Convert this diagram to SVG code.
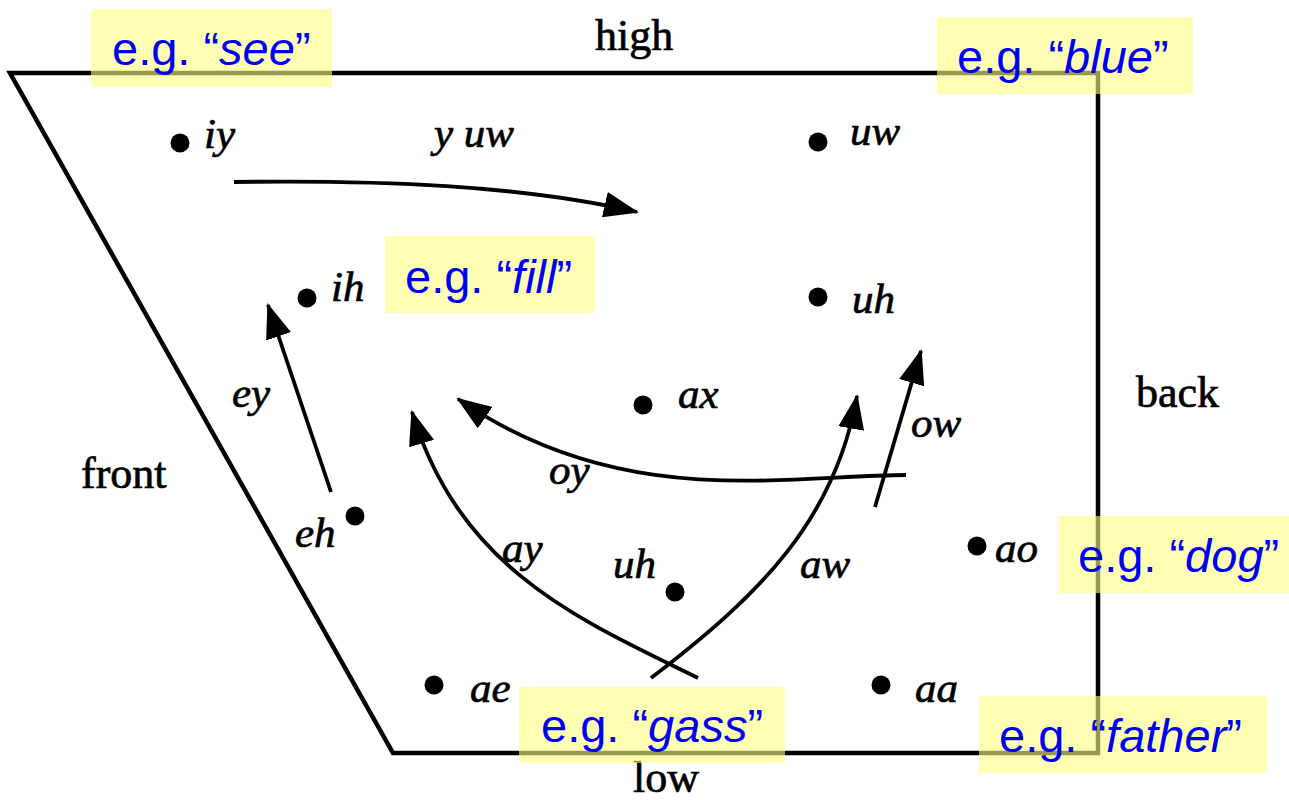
<svg xmlns="http://www.w3.org/2000/svg" width="1289" height="800" viewBox="0 0 1289 800">
<style>
.frame{fill:none;stroke:#000;stroke-width:4.5;stroke-linejoin:miter}
.arr{fill:none;stroke:#000;stroke-width:3.8}
.dot{fill:#000}
.ph{font-family:"Liberation Serif","Times New Roman",serif;font-style:italic;font-size:43px;fill:#000;stroke:#000;stroke-width:0.7}
.ax{font-family:"Liberation Serif","Times New Roman",serif;font-size:44px;fill:#000;stroke:#000;stroke-width:0.7}
.box{fill:#ffff80;fill-opacity:0.6}
.eg{font-family:"Liberation Sans",Arial,sans-serif;font-size:47px;fill:#0000f0}
.it{font-style:italic}
</style>
<defs>
<marker id="ah" markerUnits="userSpaceOnUse" markerWidth="36" markerHeight="28" viewBox="0 0 36 28" refX="33" refY="14" orient="auto">
<path d="M0,1 L35,14 L0,27 z" fill="#000"/>
</marker>
</defs>
<rect width="1289" height="800" fill="#fff"/>

<g id="chart-frame">
<path class="frame" d="M10,73 L1098,73 L1098,753 L393,753 Z"/>
</g>

<g id="connectors">
<path id="e-yuw" class="arr" marker-end="url(#ah)" d="M234,182 C380,180 520,185 637,212"/>
<path id="e-ey" class="arr" marker-end="url(#ah)" d="M331,492 L268,305"/>
<path id="e-oy" class="arr" marker-end="url(#ah)" d="M906,475 C780,476 620,510 458,399"/>
<path id="e-ow" class="arr" marker-end="url(#ah)" d="M875,507 L921,351"/>
<path id="e-ay" class="arr" marker-end="url(#ah)" d="M698,678 C580,620 460,570 412,412"/>
<path id="e-aw" class="arr" marker-end="url(#ah)" d="M651,678 C760,595 835,520 857,396"/>
</g>

<g id="label-yuw"><text class="ph" x="434" y="147">y uw</text></g>
<g id="label-ey"><text class="ph" x="232" y="407">ey</text></g>
<g id="label-oy"><text class="ph" x="549" y="484">oy</text></g>
<g id="label-ow"><text class="ph" x="911" y="437">ow</text></g>
<g id="label-ay"><text class="ph" x="502" y="562">ay</text></g>
<g id="label-aw"><text class="ph" x="800" y="578">aw</text></g>

<g id="v-iy"><circle class="dot" cx="180" cy="143" r="9.5"/><text class="ph" x="204" y="148">iy</text></g>
<g id="v-uw"><circle class="dot" cx="818" cy="142" r="9.5"/><text class="ph" x="850" y="145">uw</text></g>
<g id="v-ih"><circle class="dot" cx="307" cy="298" r="9.5"/><text class="ph" x="331" y="301">ih</text></g>
<g id="v-uh-high"><circle class="dot" cx="818" cy="297" r="9.5"/><text class="ph" x="852" y="313">uh</text></g>
<g id="v-ax"><circle class="dot" cx="643" cy="405" r="9.5"/><text class="ph" x="678" y="408">ax</text></g>
<g id="v-eh"><circle class="dot" cx="355" cy="516" r="9.5"/><text class="ph" x="295" y="547">eh</text></g>
<g id="v-uh-low"><circle class="dot" cx="675" cy="592" r="9.5"/><text class="ph" x="613" y="578">uh</text></g>
<g id="v-ao"><circle class="dot" cx="977" cy="546" r="9.5"/><text class="ph" x="995" y="562">ao</text></g>
<g id="v-ae"><circle class="dot" cx="434" cy="685" r="9.5"/><text class="ph" x="470" y="702">ae</text></g>
<g id="v-aa"><circle class="dot" cx="881" cy="685" r="9.5"/><text class="ph" x="915" y="702">aa</text></g>

<g id="axis-high"><text class="ax" x="595" y="50">high</text></g>
<g id="axis-low"><text class="ax" x="633" y="792">low</text></g>
<g id="axis-front"><text class="ax" x="81" y="488">front</text></g>
<g id="axis-back"><text class="ax" x="1136" y="407">back</text></g>

<g id="ex-see"><rect class="box" x="91" y="9" width="241" height="78"/><text class="eg" x="112" y="65">e.g. “<tspan class="it">see</tspan>”</text></g>
<g id="ex-blue"><rect class="box" x="937" y="17" width="256" height="77"/><text class="eg" x="957" y="73">e.g. “<tspan class="it">blue</tspan>”</text></g>
<g id="ex-fill"><rect class="box" x="385" y="236" width="210" height="77"/><text class="eg" x="405" y="293">e.g. “<tspan class="it">fill</tspan>”</text></g>
<g id="ex-dog"><rect class="box" x="1058" y="516" width="231" height="77"/><text class="eg" x="1078" y="572">e.g. “<tspan class="it">dog</tspan>”</text></g>
<g id="ex-gass"><rect class="box" x="519" y="687" width="266" height="76"/><text class="eg" x="541" y="742">e.g. “<tspan class="it">gass</tspan>”</text></g>
<g id="ex-father"><rect class="box" x="979" y="696" width="288" height="77"/><text class="eg" x="999" y="752">e.g. “<tspan class="it">father</tspan>”</text></g>
</svg>
